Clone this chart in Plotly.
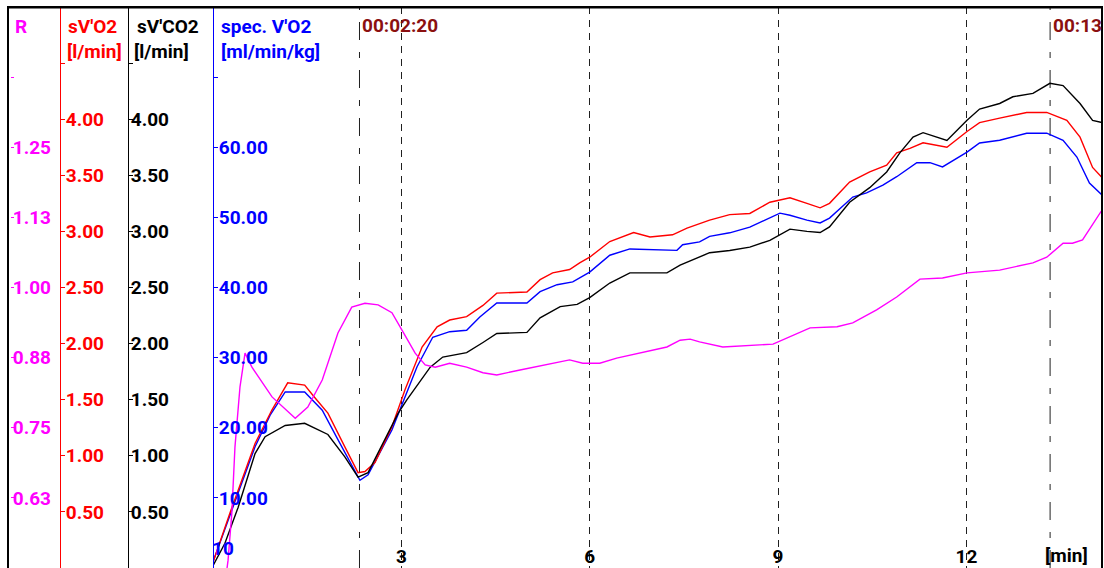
import plotly.graph_objects as go

# ---------------- data ----------------
t_vo2 = [0.0, 0.27, 0.67, 0.94, 1.19, 1.46, 1.62, 1.83, 2.10, 2.31, 2.42, 2.58, 2.85, 3.06, 3.33,
         3.57, 3.77, 4.04, 4.30, 4.52, 5.00, 5.21, 5.41, 5.68, 5.84, 6.00, 6.32, 6.70, 6.96, 7.32,
         7.55, 7.91, 8.23, 8.55, 8.87, 9.19, 9.46, 9.67, 9.82, 10.14, 10.46, 10.73, 10.89, 11.10,
         11.31, 11.69, 12.01, 12.21, 12.53, 12.96, 13.28, 13.60, 13.81, 14.01, 14.16]
vo2 = [0.05, 0.49, 1.11, 1.41, 1.65, 1.63, 1.52, 1.38, 1.08, 0.85, 0.86, 0.94, 1.26, 1.59, 1.97,
       2.15, 2.21, 2.24, 2.34, 2.45, 2.46, 2.57, 2.63, 2.66, 2.72, 2.77, 2.91, 2.99, 2.95, 2.97,
       3.03, 3.10, 3.15, 3.16, 3.26, 3.30, 3.25, 3.21, 3.25, 3.44, 3.53, 3.59, 3.70, 3.74,
       3.79, 3.75, 3.89, 3.97, 4.01, 4.06, 4.06, 3.99, 3.84, 3.57, 3.48]

t_vco2 = [0.0, 0.19, 0.40, 0.67, 0.83, 1.15, 1.46, 1.83, 2.10, 2.31, 2.47, 2.95, 3.09, 3.46, 3.66,
          4.04, 4.30, 4.52, 5.00, 5.21, 5.53, 5.80, 6.00, 6.32, 6.64, 7.23, 7.44, 7.75, 7.91, 8.23,
          8.55, 8.87, 9.00, 9.19, 9.46, 9.67, 9.82, 10.14, 10.46, 10.73, 10.94, 11.15, 11.31, 11.69,
          12.01, 12.21, 12.53, 12.74, 13.06, 13.33, 13.54, 13.81, 14.01, 14.16]
vco2 = [0.02, 0.22, 0.54, 1.02, 1.17, 1.27, 1.29, 1.19, 0.99, 0.81, 0.85, 1.38, 1.50, 1.79, 1.88,
        1.92, 2.01, 2.09, 2.10, 2.23, 2.33, 2.35, 2.41, 2.54, 2.63, 2.63, 2.70, 2.77, 2.81, 2.83,
        2.86, 2.92, 2.96, 3.02, 3.00, 2.99, 3.04, 3.26, 3.39, 3.53, 3.70, 3.84, 3.88, 3.81,
        3.99, 4.09, 4.14, 4.20, 4.23, 4.32, 4.30, 4.14, 3.99, 3.97]

t_spec = [0.0, 0.27, 0.67, 0.91, 1.15, 1.46, 1.74, 1.99, 2.34, 2.47, 2.85, 3.25, 3.50, 3.77, 4.04,
          4.25, 4.52, 5.00, 5.21, 5.48, 5.73, 6.00, 6.32, 6.64, 7.39, 7.48, 7.75, 7.91, 8.23, 8.55,
          8.87, 9.03, 9.19, 9.46, 9.67, 9.82, 10.19, 10.41, 10.67, 10.89, 11.21, 11.42, 11.62,
          12.01, 12.21, 12.53, 12.96, 13.28, 13.54, 13.76, 13.96, 14.16]
spec_vo2 = [0.9, 7.6, 17.3, 21.8, 25.1, 25.1, 22.5, 18.3, 12.5, 13.3, 19.7, 28.7, 32.9, 33.7, 33.9,
            35.8, 37.8, 37.8, 39.4, 40.4, 40.8, 42.2, 44.6, 45.5, 45.3, 46.1, 46.5, 47.3, 47.8, 48.6,
            49.9, 50.6, 50.3, 49.6, 49.2, 49.9, 52.9, 53.5, 54.6, 55.8, 57.8, 57.8, 57.2,
            59.3, 60.6, 61.0, 62.0, 62.0, 61.0, 58.6, 54.9, 53.2]

t_r = [0.21, 0.24, 0.30, 0.35, 0.43, 0.51, 0.62, 0.94, 1.31, 1.51, 1.74, 1.99, 2.21, 2.42, 2.63,
       2.85, 3.01, 3.22, 3.38, 3.54, 3.77, 4.04, 4.30, 4.52, 4.89, 5.10, 5.48, 5.68, 5.89, 6.16,
       6.43, 6.80, 7.23, 7.44, 7.60, 7.75, 8.12, 8.92, 9.19, 9.51, 9.94, 10.19, 10.57, 10.89,
       11.26, 11.62, 12.01, 12.53, 13.06, 13.28, 13.54, 13.69, 13.85, 14.16]
r_vals = [0.488, 0.514, 0.598, 0.716, 0.823, 0.883, 0.858, 0.805, 0.767, 0.787, 0.835, 0.919, 0.965,
          0.972, 0.969, 0.955, 0.924, 0.883, 0.862, 0.858, 0.865, 0.858, 0.848, 0.844, 0.853, 0.858,
          0.867, 0.871, 0.865, 0.865, 0.874, 0.883, 0.894, 0.906, 0.908, 0.903, 0.894, 0.899, 0.912,
          0.928, 0.930, 0.937, 0.960, 0.983, 1.015, 1.017, 1.026, 1.031, 1.044, 1.054, 1.079, 1.079,
          1.085, 1.138]

x_ticks = [3, 6, 9, 12]
x_labels = ["3", "6", "9", "12"]
r_ticks = [0.625, 0.75, 0.875, 1.0, 1.125, 1.25, 1.375]
r_labels = ["0.63", "0.75", "0.88", "1.00", "1.13", "1.25", ""]
l_ticks = [0.5, 1.0, 1.5, 2.0, 2.5, 3.0, 3.5, 4.0, 4.5]
l_labels = ["0.50", "1.00", "1.50", "2.00", "2.50", "3.00", "3.50", "4.00", ""]
spec_ticks = [10, 20, 30, 40, 50, 60, 70]
spec_labels = ["10.00", "20.00", "30.00", "40.00", "50.00", "60.00", ""]
marker_times = [2 + 20 / 60, 13 + 20 / 60]
marker_labels = ["00:02:20", "00:13"]

# ---------------- styling ----------------
FONT = "Roboto, Liberation Sans, sans-serif"
MAG, RED, BLK, BLU = "#ff00ff", "#ff0000", "#000000", "#0000ff"
MARK = "#8b1010"
FS = 19

W, H = 1104, 568
ML, MR, MT, MB = 8, 2, 7, 0
PW = W - ML - MR


def px(xp):
    return (xp - ML) / PW


def ypap(yp):
    return 1 - (yp - MT) / (H - MT - MB)


fig = go.Figure()
fig.add_trace(go.Scatter(x=t_r, y=r_vals, yaxis="y4", mode="lines",
                         line=dict(color=MAG, width=1.4), name="R"))
fig.add_trace(go.Scatter(x=t_vco2, y=vco2, yaxis="y3", mode="lines",
                         line=dict(color=BLK, width=1.4), name="sV'CO2"))
fig.add_trace(go.Scatter(x=t_spec, y=spec_vo2, yaxis="y", mode="lines",
                         line=dict(color=BLU, width=1.4), name="spec. V'O2"))
fig.add_trace(go.Scatter(x=t_vo2, y=vo2, yaxis="y2", mode="lines",
                         line=dict(color=RED, width=1.4), name="sV'O2"))


def yax(color, rng, tv, tt, pos, showline=True, ticklen=4, standoff=-3, **kw):
    return dict(range=rng, tickvals=tv, ticktext=tt, anchor="free", position=pos,
                side="right", ticks="outside", ticklen=ticklen, tickwidth=1, tickcolor=color,
                showline=showline, linecolor=color, linewidth=1, showgrid=False,
                zeroline=False, fixedrange=True, automargin=False,
                ticklabelstandoff=standoff,
                tickfont=dict(family=FONT, size=FS, color=color, weight="bold"), **kw)


def frame_axis(**kw):
    return dict(showline=True, linecolor="black", linewidth=2, showgrid=False,
                zeroline=False, showticklabels=False, ticks="", fixedrange=True,
                automargin=False, **kw)


x0 = px(213)
fig.update_layout(
    width=W, height=H, margin=dict(l=ML, r=MR, t=MT, b=MB, pad=0, autoexpand=False),
    paper_bgcolor="white", plot_bgcolor="white", showlegend=False,
    xaxis=dict(domain=[x0, 1], range=[0, 14.16], tickvals=x_ticks, ticktext=x_labels,
               ticks="", showline=False, zeroline=False, showgrid=True, automargin=False,
               gridcolor="#202020", gridwidth=1, griddash="7px,6px", fixedrange=True,
               ticklabelposition="inside", ticklabelstandoff=-2,
               tickfont=dict(family=FONT, size=FS, color=BLK, weight="bold")),
    # frame: top edge
    xaxis2=frame_axis(domain=[0, 1], side="top", anchor="y", overlaying="x"),
    yaxis=yax(BLU, [0, 80], spec_ticks, spec_labels, x0),
    yaxis2=yax(RED, [0, 5], l_ticks, l_labels, px(60), overlaying="y"),
    yaxis3=yax(BLK, [0, 5], l_ticks, l_labels, px(128), standoff=-6, overlaying="y"),
    yaxis4=yax(MAG, [0.5, 1.5], r_ticks, r_labels, px(10), showline=False, ticklen=3,
               standoff=-5, overlaying="y"),
    # frame: left and right edges
    yaxis5=frame_axis(anchor="free", position=0, overlaying="y"),
    yaxis6=frame_axis(anchor="free", position=1, side="right", overlaying="y"),
)

# time-marker lines and labels
for tm, lab in zip(marker_times, marker_labels):
    fig.add_shape(type="line", xref="x", yref="paper", x0=tm, x1=tm, y0=0, y1=1,
                  line=dict(color="#202020", width=1, dash="18px,12px,6px,12px"), layer="below")
    fig.add_annotation(x=tm, y=ypap(25), xref="x", yref="paper", text=lab, showarrow=False,
                       xanchor="left", yanchor="middle", xshift=1,
                       font=dict(family=FONT, size=FS, color=MARK, weight="bold"))

# frame as shapes too (top, left, right; bottom edge lies below the picture)
fig.add_shape(type="rect", xref="paper", yref="paper", x0=0, x1=1, y0=-0.05, y1=1,
              line=dict(color="black", width=2), fillcolor="rgba(0,0,0,0)")
fig.add_shape(type="line", xref="paper", yref="paper", x0=0, x1=1, y0=ypap(7.5), y1=ypap(7.5),
              line=dict(color="black", width=2))

headers = [
    ("R", 13, 27, MAG), ("sV'O2", 66, 27, RED), ("[l/min]", 65, 52, RED),
    ("sV'CO2", 135, 27, BLK), ("[l/min]", 132, 52, BLK),
    ("spec. V'O2", 219, 27, BLU), ("[ml/min/kg]", 219, 52, BLU),
]
for txt, xp, yp, col in headers:
    fig.add_annotation(x=px(xp), y=ypap(yp), xref="paper", yref="paper", text=txt,
                       showarrow=False, xanchor="left", yanchor="middle",
                       font=dict(family=FONT, size=FS, color=col, weight="bold"))

fig.add_annotation(x=13.6, y=ypap(555), xref="x", yref="paper", text="[min]", showarrow=False,
                   xanchor="center", yanchor="middle",
                   font=dict(family=FONT, size=FS, color=BLK, weight="bold"))
fig.add_annotation(x=0.16, y=ypap(548), xref="x", yref="paper", text="10", showarrow=False,
                   xanchor="center", yanchor="middle",
                   font=dict(family=FONT, size=FS, color=BLU, weight="bold"))

fig.write_html("out.html", config={"displayModeBar": False},
               post_script="document.body.style.margin='0';document.body.style.overflow='hidden';")
